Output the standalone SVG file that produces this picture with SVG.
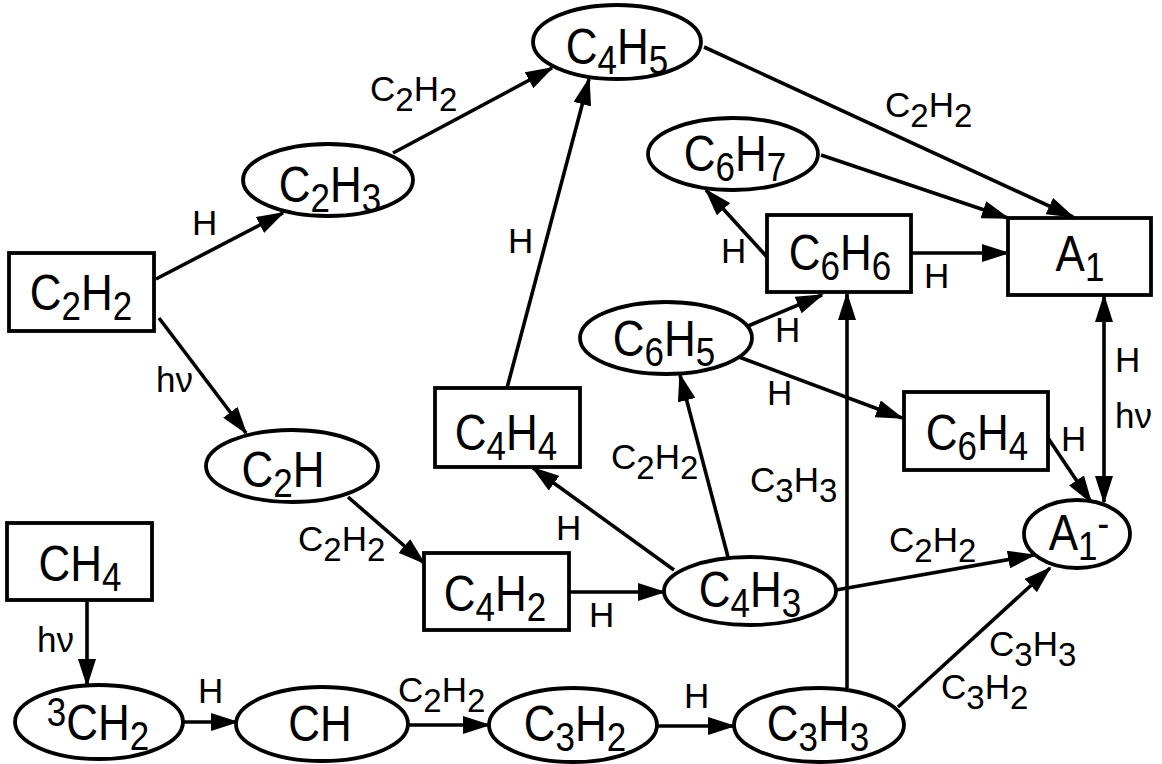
<svg xmlns="http://www.w3.org/2000/svg" width="1162" height="764" viewBox="0 0 1162 764">
<style>
.n{fill:#fff;stroke:#000;stroke-width:3.8}
.t{font-family:"Liberation Sans",Arial,sans-serif;font-size:44px;text-anchor:middle;fill:#000}
.l{font-family:"Liberation Sans",Arial,sans-serif;font-size:35px;fill:#000}
.s{font-size:35px}
.ls{font-size:33px}
.e{fill:none;stroke:#000;stroke-width:3.6;marker-end:url(#ah)}
</style>
<defs>
<marker id="ah" viewBox="0 0 28 18" refX="26" refY="9" markerWidth="28" markerHeight="18" orient="auto-start-reverse" markerUnits="userSpaceOnUse">
<path d="M0,0 L28,9 L0,18 z" fill="#000"/>
</marker>
</defs>
<rect width="1162" height="764" fill="#fff"/>
<g id="connectors">
<line class="e" x1="156" y1="279" x2="283" y2="213"/>
<line class="e" x1="159" y1="318" x2="246" y2="433"/>
<line class="e" x1="393" y1="153" x2="552" y2="68"/>
<line class="e" x1="507" y1="388" x2="589" y2="79"/>
<line class="e" x1="704" y1="47" x2="1073" y2="217"/>
<line class="e" x1="821" y1="155" x2="1008" y2="218"/>
<line class="e" x1="767" y1="257" x2="706" y2="190"/>
<line class="e" x1="911" y1="253" x2="1008" y2="253"/>
<line class="e" x1="748" y1="326" x2="822" y2="295"/>
<line class="e" x1="739" y1="357" x2="902" y2="418"/>
<line class="e" x1="847" y1="688" x2="847" y2="294"/>
<line class="e" x1="1048" y1="438" x2="1091" y2="502"/>
<line class="e" x1="1104" y1="296" x2="1104" y2="502" style="marker-start:url(#ah)"/>
<line class="e" x1="348" y1="497" x2="424" y2="563"/>
<line class="e" x1="569" y1="592" x2="664" y2="592"/>
<line class="e" x1="674" y1="570" x2="533" y2="468"/>
<line class="e" x1="728" y1="557" x2="680" y2="375"/>
<line class="e" x1="836" y1="590" x2="1034" y2="555"/>
<line class="e" x1="898" y1="707" x2="1050" y2="568"/>
<line class="e" x1="87" y1="600" x2="87" y2="685"/>
<line class="e" x1="183" y1="722" x2="237" y2="722"/>
<line class="e" x1="407" y1="725" x2="489" y2="725"/>
<line class="e" x1="658" y1="726" x2="734" y2="726"/>
</g>
<g id="edge-labels">
<text class="l" x="192" y="235">H</text>
<text class="l" x="156" y="392">hν</text>
<text class="l" x="370" y="101">C<tspan class="ls" dy="10">2</tspan><tspan dy="-10">H</tspan><tspan class="ls" dy="10">2</tspan></text>
<text class="l" x="508" y="253">H</text>
<text class="l" x="885" y="117">C<tspan class="ls" dy="10">2</tspan><tspan dy="-10">H</tspan><tspan class="ls" dy="10">2</tspan></text>
<text class="l" x="721" y="263">H</text>
<text class="l" x="924" y="288">H</text>
<text class="l" x="775" y="342">H</text>
<text class="l" x="767" y="405">H</text>
<text class="l" x="750" y="492">C<tspan class="ls" dy="10">3</tspan><tspan dy="-10">H</tspan><tspan class="ls" dy="10">3</tspan></text>
<text class="l" x="1061" y="451">H</text>
<text class="l" x="1115" y="372">H</text>
<text class="l" x="1115" y="428">hν</text>
<text class="l" x="298" y="551">C<tspan class="ls" dy="10">2</tspan><tspan dy="-10">H</tspan><tspan class="ls" dy="10">2</tspan></text>
<text class="l" x="589" y="627">H</text>
<text class="l" x="556" y="540">H</text>
<text class="l" x="611" y="469">C<tspan class="ls" dy="10">2</tspan><tspan dy="-10">H</tspan><tspan class="ls" dy="10">2</tspan></text>
<text class="l" x="889" y="552">C<tspan class="ls" dy="10">2</tspan><tspan dy="-10">H</tspan><tspan class="ls" dy="10">2</tspan></text>
<text class="l" x="989" y="656">C<tspan class="ls" dy="10">3</tspan><tspan dy="-10">H</tspan><tspan class="ls" dy="10">3</tspan></text>
<text class="l" x="941" y="699">C<tspan class="ls" dy="10">3</tspan><tspan dy="-10">H</tspan><tspan class="ls" dy="10">2</tspan></text>
<text class="l" x="37" y="652">hν</text>
<text class="l" x="198" y="703">H</text>
<text class="l" x="398" y="702">C<tspan class="ls" dy="10">2</tspan><tspan dy="-10">H</tspan><tspan class="ls" dy="10">2</tspan></text>
<text class="l" x="684" y="708">H</text>
</g>
<g id="C2H2"><rect class="n" x="9" y="253" width="145" height="78"/><text class="t" transform="translate(81,310) scale(1,1.15)">C<tspan class="s" dy="9">2</tspan><tspan dy="-9">H</tspan><tspan class="s" dy="9">2</tspan></text></g>
<g id="C2H3"><ellipse class="n" cx="328" cy="180" rx="85" ry="36"/><text class="t" transform="translate(330,202) scale(1,1.15)">C<tspan class="s" dy="9">2</tspan><tspan dy="-9">H</tspan><tspan class="s" dy="9">3</tspan></text></g>
<g id="C4H5"><ellipse class="n" cx="617" cy="42" rx="84" ry="37"/><text class="t" transform="translate(617,64) scale(1,1.15)">C<tspan class="s" dy="9">4</tspan><tspan dy="-9">H</tspan><tspan class="s" dy="9">5</tspan></text></g>
<g id="C6H7"><ellipse class="n" cx="733" cy="154" rx="85" ry="36"/><text class="t" transform="translate(735,171) scale(1,1.15)">C<tspan class="s" dy="9">6</tspan><tspan dy="-9">H</tspan><tspan class="s" dy="9">7</tspan></text></g>
<g id="C6H6"><rect class="n" x="767" y="215" width="144" height="77"/><text class="t" transform="translate(840,270) scale(1,1.15)">C<tspan class="s" dy="9">6</tspan><tspan dy="-9">H</tspan><tspan class="s" dy="9">6</tspan></text></g>
<g id="A1"><rect class="n" x="1008" y="218" width="143" height="77"/><text class="t" transform="translate(1080,271) scale(1,1.15)">A<tspan class="s" dy="9">1</tspan></text></g>
<g id="C6H5"><ellipse class="n" cx="666" cy="338" rx="86" ry="36"/><text class="t" transform="translate(664,356) scale(1,1.15)">C<tspan class="s" dy="9">6</tspan><tspan dy="-9">H</tspan><tspan class="s" dy="9">5</tspan></text></g>
<g id="C4H4"><rect class="n" x="435" y="388" width="145" height="79"/><text class="t" transform="translate(506,450) scale(1,1.15)">C<tspan class="s" dy="9">4</tspan><tspan dy="-9">H</tspan><tspan class="s" dy="9">4</tspan></text></g>
<g id="C6H4"><rect class="n" x="904" y="392" width="144" height="78"/><text class="t" transform="translate(977,450) scale(1,1.15)">C<tspan class="s" dy="9">6</tspan><tspan dy="-9">H</tspan><tspan class="s" dy="9">4</tspan></text></g>
<g id="C2H"><ellipse class="n" cx="292" cy="466" rx="86" ry="36"/><text class="t" transform="translate(283,487) scale(1,1.15)">C<tspan class="s" dy="9">2</tspan><tspan dy="-9">H</tspan></text></g>
<g id="C4H2"><rect class="n" x="424" y="553" width="145" height="77"/><text class="t" transform="translate(495,611) scale(1,1.15)">C<tspan class="s" dy="9">4</tspan><tspan dy="-9">H</tspan><tspan class="s" dy="9">2</tspan></text></g>
<g id="C4H3"><ellipse class="n" cx="750" cy="591" rx="86" ry="34"/><text class="t" transform="translate(750,607) scale(1,1.15)">C<tspan class="s" dy="9">4</tspan><tspan dy="-9">H</tspan><tspan class="s" dy="9">3</tspan></text></g>
<g id="A1minus"><ellipse class="n" cx="1077" cy="534" rx="53" ry="34"/><text class="t" transform="translate(1079,550) scale(1,1.15)">A<tspan class="s" dy="9">1</tspan><tspan class="s" dy="-20">-</tspan></text></g>
<g id="CH4"><rect class="n" x="7" y="523" width="145" height="77"/><text class="t" transform="translate(80,581) scale(1,1.15)">CH<tspan class="s" dy="9">4</tspan></text></g>
<g id="CH2"><ellipse class="n" cx="99" cy="722" rx="84" ry="37"/><text class="t" transform="translate(98,740) scale(1,1.15)"><tspan class="s" dy="-12">3</tspan><tspan dy="12">CH</tspan><tspan class="s" dy="9">2</tspan></text></g>
<g id="CH"><ellipse class="n" cx="322" cy="724" rx="86" ry="37"/><text class="t" transform="translate(320,741) scale(1,1.15)">CH</text></g>
<g id="C3H2"><ellipse class="n" cx="573" cy="725" rx="84" ry="37"/><text class="t" transform="translate(575,741) scale(1,1.15)">C<tspan class="s" dy="9">3</tspan><tspan dy="-9">H</tspan><tspan class="s" dy="9">2</tspan></text></g>
<g id="C3H3"><ellipse class="n" cx="819" cy="725" rx="85" ry="37"/><text class="t" transform="translate(818,741) scale(1,1.15)">C<tspan class="s" dy="9">3</tspan><tspan dy="-9">H</tspan><tspan class="s" dy="9">3</tspan></text></g>
</svg>
